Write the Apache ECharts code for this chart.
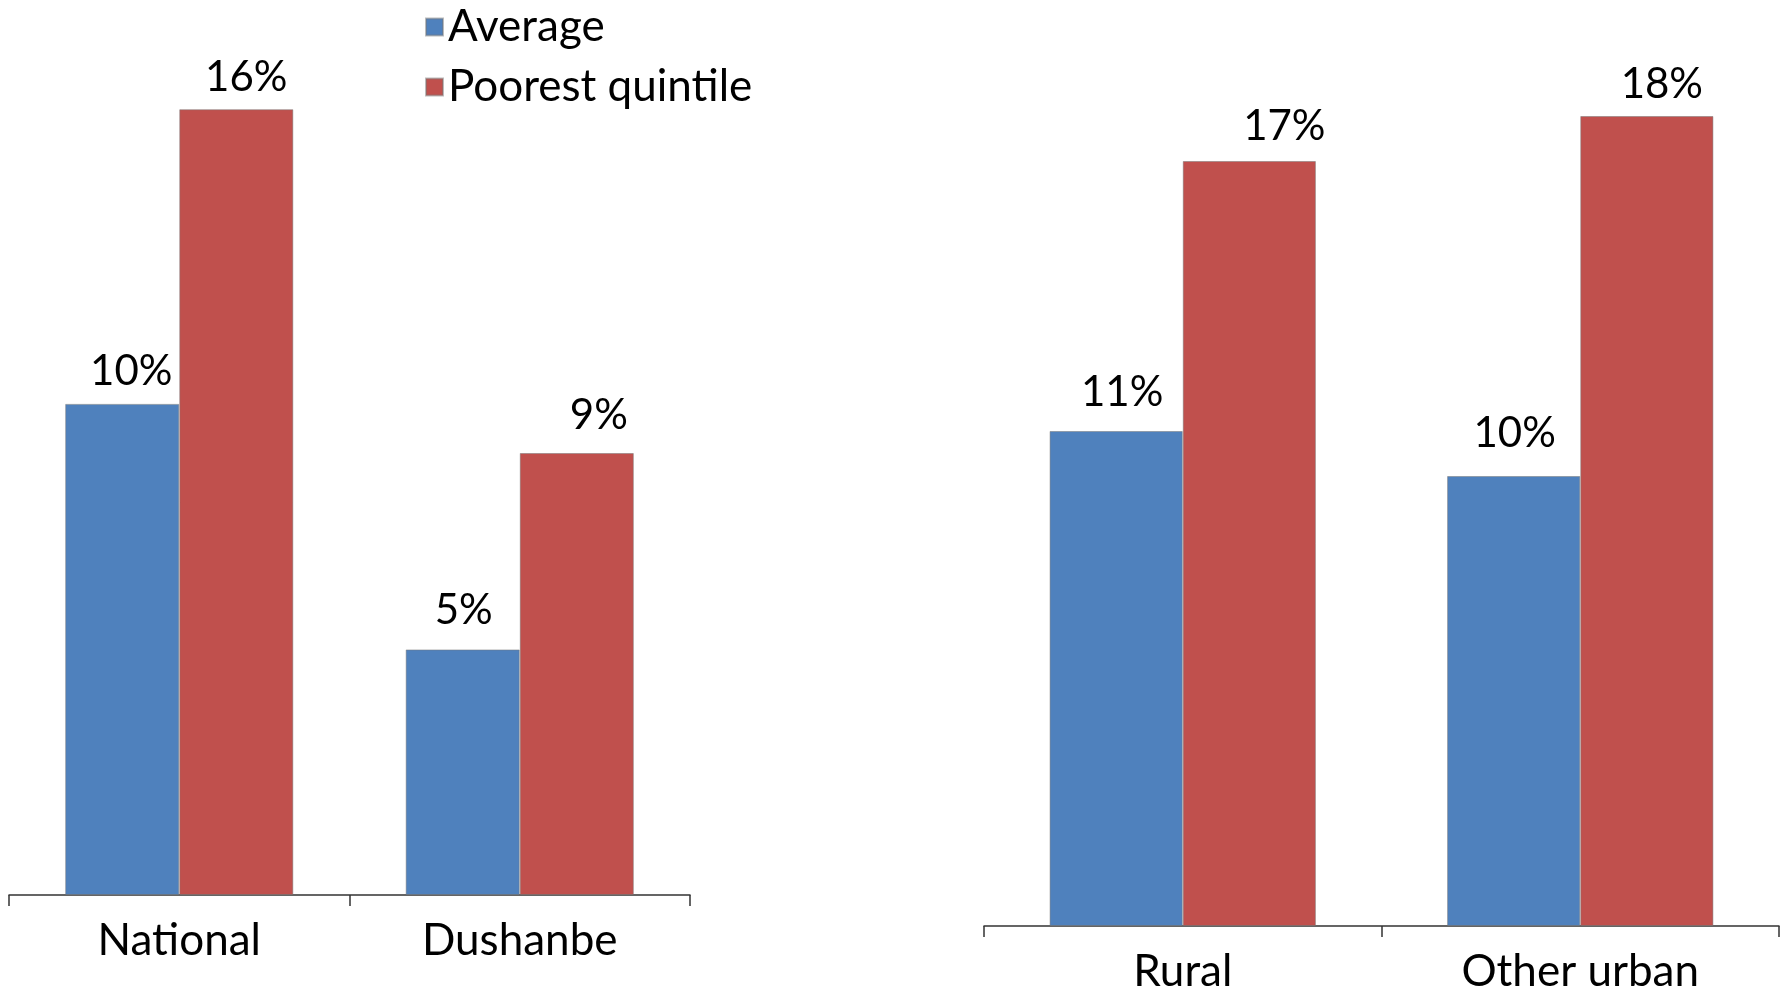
<!DOCTYPE html>
<html>
<head>
<meta charset="utf-8">
<script src="https://cdn.jsdelivr.net/npm/echarts@6/dist/echarts.min.js"></script>
<style>
html,body{margin:0;padding:0;background:#fff;}
#chart{width:1790px;height:991px;}
</style>
</head>
<body>
<div id="chart"></div>
<script>
const categoriesLeft = ['National', 'Dushanbe'];
const categoriesRight = ['Rural', 'Other urban'];
const averageLeft = [10, 5];
const poorestLeft = [16, 9];
const averageRight = [11, 10];
const poorestRight = [17, 18];
const seriesNames = ['Average', 'Poorest quintile'];

// label nudges (styling only), [dx, dy] in px
const nudgeAvgLeft = [[9, 1], [1, -6]];
const nudgePoorLeft = [[10, 1], [22, -5]];
const nudgeAvgRight = [[6, -6], [1, -10]];
const nudgePoorRight = [[35, -2], [15, 1]];

const FONT = 'Lato';
const BLUE = '#4F81BD';
const RED = '#C0504D';

const chart = echarts.init(document.getElementById('chart'), null, {renderer: 'canvas'});

function xAxis(gridIndex, data) {
  return {
    type: 'category', gridIndex: gridIndex, data: data,
    axisLine: {show: true, lineStyle: {color: '#333', width: 1.5}},
    axisTick: {show: true, length: 11, lineStyle: {color: '#333', width: 1.5}},
    axisLabel: {color: '#000', fontFamily: FONT, fontSize: 44, margin: 24},
    splitLine: {show: false}
  };
}
function yAxis(gridIndex, max) {
  return {
    type: 'value', gridIndex: gridIndex, min: 0, max: max,
    show: false, splitLine: {show: false}
  };
}
function barSeries(name, idx, values, nudges, color) {
  return {
    name: name, type: 'bar', xAxisIndex: idx, yAxisIndex: idx,
    data: values.map((v, i) => ({value: v, label: {offset: nudges[i]}})),
    barGap: '0%', barCategoryGap: '33%',
    itemStyle: {color: color, borderColor: 'rgba(120,120,120,0.5)', borderWidth: 1},
    label: {
      show: true, position: 'top', distance: 12,
      formatter: '{c}%', color: '#000', fontFamily: FONT, fontSize: 42
    },
    emphasis: {disabled: true}
  };
}

chart.setOption({
  animation: false,
  backgroundColor: '#fff',
  legend: {
    orient: 'vertical', left: 420, top: 0,
    data: seriesNames,
    itemWidth: 17, itemHeight: 17, itemGap: 16,
    icon: 'rect',
    textStyle: {fontFamily: FONT, fontSize: 44, color: '#000', lineHeight: 44}
  },
  grid: [
    {left: 9, width: 681, top: 11, bottom: 96, containLabel: false, outerBoundsMode: 'none'},
    {left: 984, width: 795, top: 26, bottom: 65, containLabel: false, outerBoundsMode: 'none'}
  ],
  xAxis: [xAxis(0, categoriesLeft), xAxis(1, categoriesRight)],
  yAxis: [yAxis(0, 18), yAxis(1, 20)],
  series: [
    barSeries(seriesNames[0], 0, averageLeft, nudgeAvgLeft, BLUE),
    barSeries(seriesNames[1], 0, poorestLeft, nudgePoorLeft, RED),
    barSeries(seriesNames[0], 1, averageRight, nudgeAvgRight, BLUE),
    barSeries(seriesNames[1], 1, poorestRight, nudgePoorRight, RED)
  ]
});
</script>
</body>
</html>
